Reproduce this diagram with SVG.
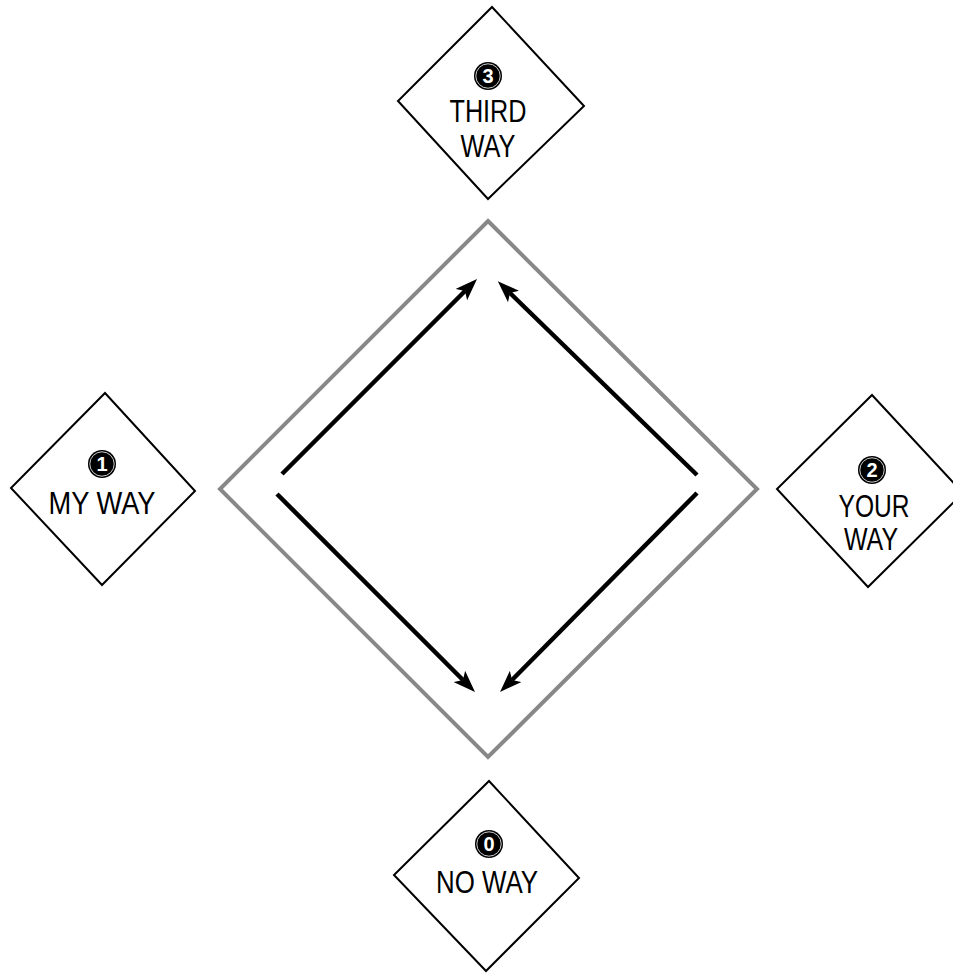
<svg xmlns="http://www.w3.org/2000/svg" width="953" height="973" viewBox="0 0 953 973">
<style>
.box{fill:#fff;stroke:#000;stroke-width:2}
.lbl{font-family:"Liberation Sans",Arial,sans-serif;font-size:32px;fill:#000;text-anchor:middle}
.num{font-family:"Liberation Sans","DejaVu Sans",sans-serif;font-weight:bold;font-size:20px;fill:#fff;text-anchor:middle}
.dot{fill:#000}
.ring{fill:none;stroke:#fff;stroke-width:0.8}
.arr{stroke:#000;stroke-width:4.5;fill:none;marker-end:url(#ah)}
</style>
<defs>
<marker id="ah" markerUnits="userSpaceOnUse" markerWidth="22" markerHeight="16" refX="5" refY="8" orient="auto">
<path d="M0,0 L22,8 L0,16 L5,8 z" fill="#000"/>
</marker>
</defs>
<rect width="953" height="973" fill="#fff"/>
<g id="frame">
<polygon points="488,221 757,489 488,757 220,489" fill="none" stroke="#888" stroke-width="4"/>
</g>
<g id="connectors">
<line class="arr" x1="282" y1="474" x2="465" y2="291"/>
<line class="arr" x1="697" y1="475" x2="510" y2="293"/>
<line class="arr" x1="277" y1="494" x2="463" y2="680"/>
<line class="arr" x1="697" y1="493" x2="512" y2="680"/>
</g>
<g id="third">
<polygon class="box" points="492,7 584,106 488,199 398,101"/>
<circle class="dot" cx="488" cy="76" r="14"/>
<circle class="ring" cx="488" cy="76" r="12.2"/>
<text class="num" x="488" y="83">3</text>
<text class="lbl" x="488" y="122" textLength="77" lengthAdjust="spacingAndGlyphs">THIRD</text>
<text class="lbl" x="488" y="157" textLength="55" lengthAdjust="spacingAndGlyphs">WAY</text>
</g>
<g id="my">
<polygon class="box" points="105,393 195,491 102,585 11,488"/>
<circle class="dot" cx="102" cy="464" r="14"/>
<circle class="ring" cx="102" cy="464" r="12.2"/>
<text class="num" x="102" y="471">1</text>
<text class="lbl" x="102" y="514" textLength="107" lengthAdjust="spacingAndGlyphs">MY WAY</text>
</g>
<g id="your">
<polygon class="box" points="872,395 963,493 868,587 777,489"/>
<circle class="dot" cx="872" cy="470" r="14"/>
<circle class="ring" cx="872" cy="470" r="12.2"/>
<text class="num" x="872" y="477">2</text>
<text class="lbl" x="874" y="517" textLength="71" lengthAdjust="spacingAndGlyphs">YOUR</text>
<text class="lbl" x="871" y="550" textLength="54" lengthAdjust="spacingAndGlyphs">WAY</text>
</g>
<g id="no">
<polygon class="box" points="489,781 579,878 486,971 394,875"/>
<circle class="dot" cx="489" cy="844" r="14"/>
<circle class="ring" cx="489" cy="844" r="12.2"/>
<text class="num" x="489" y="851">0</text>
<text class="lbl" x="487" y="893" textLength="102" lengthAdjust="spacingAndGlyphs">NO WAY</text>
</g>
</svg>
